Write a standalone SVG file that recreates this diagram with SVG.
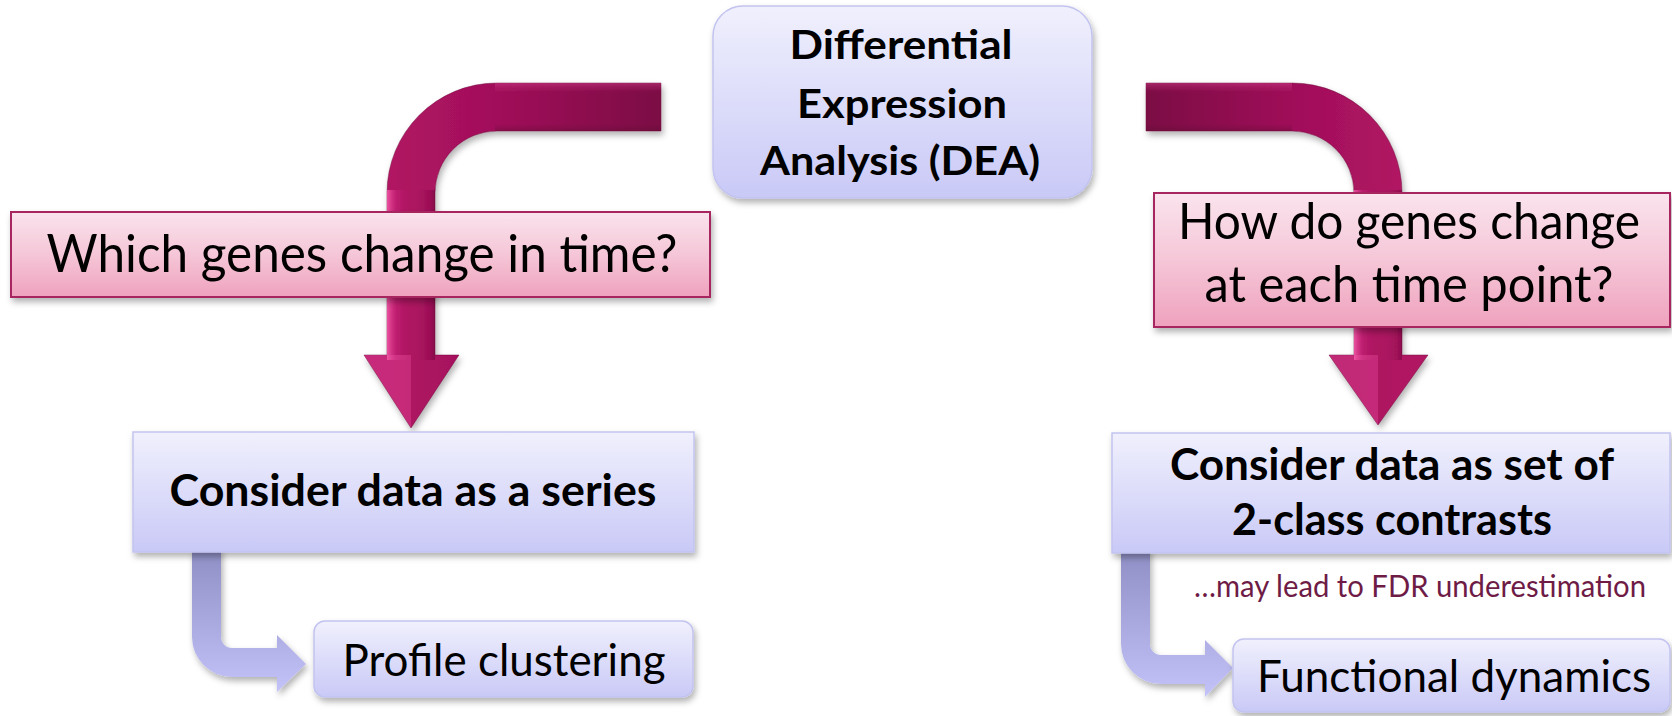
<svg xmlns="http://www.w3.org/2000/svg" width="1672" height="716" viewBox="0 0 1672 716">
  <defs>
    <style>
      .t { font-family: Lato, "Open Sans", "Liberation Sans", sans-serif; fill: #000; text-anchor: middle; }
      .b { font-weight: bold; }
      .note { font-family: Lato, "Open Sans", "Liberation Sans", sans-serif; fill: #6e1c46; }
      .pink { fill: url(#pinkFill); stroke: #a8275f; stroke-width: 2; }
      .blue { fill: url(#blueFill); stroke: #c3c3f0; stroke-width: 1.5; }
      .mag { stroke: #6a0a3a; stroke-width: 1; stroke-opacity: 0.45; }
      .lav { fill: url(#lavFill); }
    </style>
    <linearGradient id="pinkFill" x1="0" y1="0" x2="0" y2="1">
      <stop offset="0" stop-color="#fae4ed"/>
      <stop offset="0.5" stop-color="#f5c6d7"/>
      <stop offset="1" stop-color="#efa2bd"/>
    </linearGradient>
    <linearGradient id="blueFill" x1="0" y1="0" x2="0" y2="1">
      <stop offset="0" stop-color="#f0f0fd"/>
      <stop offset="1" stop-color="#c9c9f7"/>
    </linearGradient>
    <linearGradient id="lavFill" x1="0" y1="0" x2="0" y2="1">
      <stop offset="0" stop-color="#8e8ec4"/>
      <stop offset="1" stop-color="#c3c3f9"/>
    </linearGradient>
    <linearGradient id="magL" gradientUnits="userSpaceOnUse" x1="387" y1="0" x2="661" y2="0">
      <stop offset="0" stop-color="#b11563"/>
      <stop offset="0.4" stop-color="#a10f5a"/>
      <stop offset="1" stop-color="#7b0c44"/>
    </linearGradient>
    <linearGradient id="magR" gradientUnits="userSpaceOnUse" x1="1146" y1="0" x2="1402" y2="0">
      <stop offset="0" stop-color="#7b0c44"/>
      <stop offset="0.6" stop-color="#a10f5a"/>
      <stop offset="1" stop-color="#b11563"/>
    </linearGradient>
    <!-- bevel across a vertical shaft: bright left rim, darker right rim -->
    <linearGradient id="bevel" x1="0" y1="0" x2="1" y2="0">
      <stop offset="0" stop-color="#f25aa8" stop-opacity="0.9"/>
      <stop offset="0.18" stop-color="#e0358c" stop-opacity="0.35"/>
      <stop offset="0.5" stop-color="#b01464" stop-opacity="0"/>
      <stop offset="0.9" stop-color="#6a0838" stop-opacity="0.25"/>
      <stop offset="1" stop-color="#5a0630" stop-opacity="0.45"/>
    </linearGradient>
    <linearGradient id="bevelH" x1="0" y1="0" x2="0" y2="1">
      <stop offset="0" stop-color="#d84a94" stop-opacity="0.45"/>
      <stop offset="0.2" stop-color="#c02a78" stop-opacity="0"/>
      <stop offset="0.85" stop-color="#5a0630" stop-opacity="0"/>
      <stop offset="1" stop-color="#5a0630" stop-opacity="0.35"/>
    </linearGradient>
    <clipPath id="clipL">
      <path d="M 661 83 L 497 83 A 110 110 0 0 0 387 193 L 387 355 L 364 355 L 411 428 L 459 355 L 435 355 L 435 193 A 62 62 0 0 1 497 131 L 661 131 Z"/>
    </clipPath>
    <clipPath id="clipR">
      <path d="M 1146 83 L 1292 83 A 110 110 0 0 1 1402 193 L 1402 355 L 1428 355 L 1378 425 L 1329 355 L 1354 355 L 1354 193 A 62 62 0 0 0 1292 131 L 1146 131 Z"/>
    </clipPath>
    <filter id="shadow" x="-10%" y="-10%" width="120%" height="130%">
      <feDropShadow dx="2" dy="4" stdDeviation="3" flood-color="#000" flood-opacity="0.3"/>
    </filter>
  </defs>

  <rect width="1672" height="716" fill="#ffffff"/>

  <!-- connectors -->
  <g id="connectors">
    <g id="arrow-left" filter="url(#shadow)">
      <path class="mag" fill="url(#magL)" d="M 661 83 L 497 83 A 110 110 0 0 0 387 193 L 387 355 L 364 355 L 411 428 L 459 355 L 435 355 L 435 193 A 62 62 0 0 1 497 131 L 661 131 Z"/>
      <g clip-path="url(#clipL)">
        <rect x="387" y="190" width="48" height="170" fill="url(#bevel)"/>
        <rect x="495" y="83" width="166" height="48" fill="url(#bevelH)"/>
        <path d="M 364 355 L 411 428 L 411 355 Z" fill="#f05aa6" fill-opacity="0.35"/>
      </g>
    </g>
    <g id="arrow-right" filter="url(#shadow)">
      <path class="mag" fill="url(#magR)" d="M 1146 83 L 1292 83 A 110 110 0 0 1 1402 193 L 1402 355 L 1428 355 L 1378 425 L 1329 355 L 1354 355 L 1354 193 A 62 62 0 0 0 1292 131 L 1146 131 Z"/>
      <g clip-path="url(#clipR)">
        <rect x="1354" y="190" width="48" height="170" fill="url(#bevel)"/>
        <rect x="1146" y="83" width="146" height="48" fill="url(#bevelH)"/>
        <path d="M 1329 355 L 1378 425 L 1378 355 Z" fill="#f05aa6" fill-opacity="0.35"/>
      </g>
    </g>
    <path id="arrow-series" class="lav" filter="url(#shadow)" d="M 192 548 L 192 637 A 40 40 0 0 0 232 677 L 277 677 L 277 692 L 306 664 L 277 635 L 277 648 L 232 648 A 11 11 0 0 1 221 637 L 221 548 Z"/>
    <path id="arrow-contrasts" class="lav" filter="url(#shadow)" d="M 1121 548 L 1121 644 A 40 40 0 0 0 1161 684 L 1205 684 L 1205 697 L 1233 668 L 1205 640 L 1205 655 L 1161 655 A 11 11 0 0 1 1150 644 L 1150 548 Z"/>
  </g>

  <!-- nodes -->
  <g id="dea">
    <rect class="blue" x="713" y="6" width="379" height="192" rx="30" filter="url(#shadow)"/>
    <text class="t b" x="901" y="59" font-size="40" textLength="223" lengthAdjust="spacingAndGlyphs">Differential</text>
    <text class="t b" x="902" y="118" font-size="40" textLength="210" lengthAdjust="spacingAndGlyphs">Expression</text>
    <text class="t b" x="900" y="175" font-size="40" textLength="280" lengthAdjust="spacingAndGlyphs">Analysis (DEA)</text>
  </g>

  <g id="q-time">
    <rect class="pink" x="11" y="212" width="699" height="85" filter="url(#shadow)"/>
    <text class="t" x="362" y="272" font-size="53" textLength="631" lengthAdjust="spacingAndGlyphs">Which genes change in time?</text>
  </g>

  <g id="q-point">
    <rect class="pink" x="1154" y="193" width="516" height="134" filter="url(#shadow)"/>
    <text class="t" x="1409" y="239" font-size="50" textLength="462" lengthAdjust="spacingAndGlyphs">How do genes change</text>
    <text class="t" x="1409" y="302" font-size="50" textLength="409" lengthAdjust="spacingAndGlyphs">at each time point?</text>
  </g>

  <g id="series">
    <rect class="blue" x="133" y="432" width="561" height="120" filter="url(#shadow)"/>
    <text class="t b" x="413" y="506" font-size="43" textLength="487" lengthAdjust="spacingAndGlyphs">Consider data as a series</text>
  </g>

  <g id="contrasts">
    <rect class="blue" x="1112" y="433" width="558" height="120" filter="url(#shadow)"/>
    <text class="t b" x="1392" y="480" font-size="43" textLength="444" lengthAdjust="spacingAndGlyphs">Consider data as set of</text>
    <text class="t b" x="1392" y="535" font-size="43" textLength="320" lengthAdjust="spacingAndGlyphs">2-class contrasts</text>
  </g>

  <g id="fdr-note">
    <text class="note" x="1194" y="597" font-size="30" textLength="452" lengthAdjust="spacingAndGlyphs">…may lead to FDR underestimation</text>
  </g>

  <g id="clustering">
    <rect class="blue" x="314" y="621" width="379" height="76" rx="11" filter="url(#shadow)"/>
    <text class="t" x="504" y="676" font-size="44" textLength="323" lengthAdjust="spacingAndGlyphs">Profile clustering</text>
  </g>

  <g id="dynamics">
    <rect class="blue" x="1233" y="639" width="437" height="73" rx="11" filter="url(#shadow)"/>
    <text class="t" x="1454" y="692" font-size="44" textLength="394" lengthAdjust="spacingAndGlyphs">Functional dynamics</text>
  </g>
</svg>
